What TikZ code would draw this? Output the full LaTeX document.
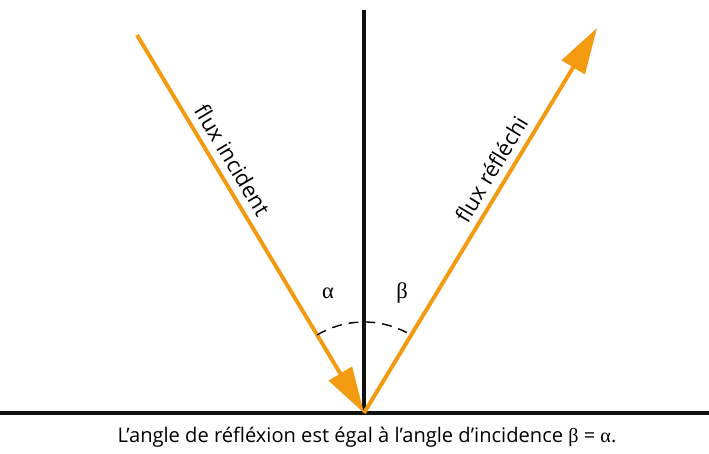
\documentclass[tikz,border=0pt]{standalone}
\usepackage{fontspec}
\setmainfont{Open Sans}
\newfontfamily\greekfont{Liberation Serif}
\usetikzlibrary{arrows.meta, positioning}
\definecolor{RayOrange}{HTML}{F39A10}
\definecolor{AxisBlack}{HTML}{111111}

\begin{document}
\begin{tikzpicture}[x=0.025cm, y=-0.025cm,
  axis/.style={draw=AxisBlack, line width=2.2pt},
  ray/.style={draw=RayOrange, line width=2.8pt},
  raytip/.style={-{Triangle[length=1.15cm, width=0.66cm]}},
  raylabel/.style={font=\fontsize{15.5}{17}\selectfont, sloped, above, inner sep=5pt},
  greek/.style={font=\greekfont\fontsize{16}{18}\selectfont}
]
\useasboundingbox (0,0) rectangle (709,453);

% points
\coordinate (O) at (364,413);
\coordinate (gl) at (0,413);
\coordinate (gr) at (709,413);
\coordinate (top) at (364,10);
\coordinate (inc) at (137,35);
\coordinate (refl) at (597,28);

% surface and normal
\draw[axis] (gl) -- (gr);
\draw[axis] (O) -- (top);

% rays
\draw[ray, raytip] (inc) -- (O)
  node[raylabel, pos=0.355] (inclabel) {flux incident};
\draw[ray, raytip] (O) -- (refl)
  node[raylabel, pos=0.61] (refllabel) {flux réfléchi};

% angles
\draw[line width=1pt, dash pattern=on 7pt off 5pt]
  ([shift={(121:2.275cm)}]O) arc[start angle=121, end angle=62, radius=2.275cm];
\node[greek] (alpha) at (328,293) {α};
\node[greek] (beta) at (402,293) {β};

% caption
\node[font=\fontsize{14.3}{16}\selectfont] (caption) at (367,437)
  {L’angle de réfléxion est égal à l’angle d’incidence {\greekfont β} = {\greekfont α}.};
\end{tikzpicture}
\end{document}
